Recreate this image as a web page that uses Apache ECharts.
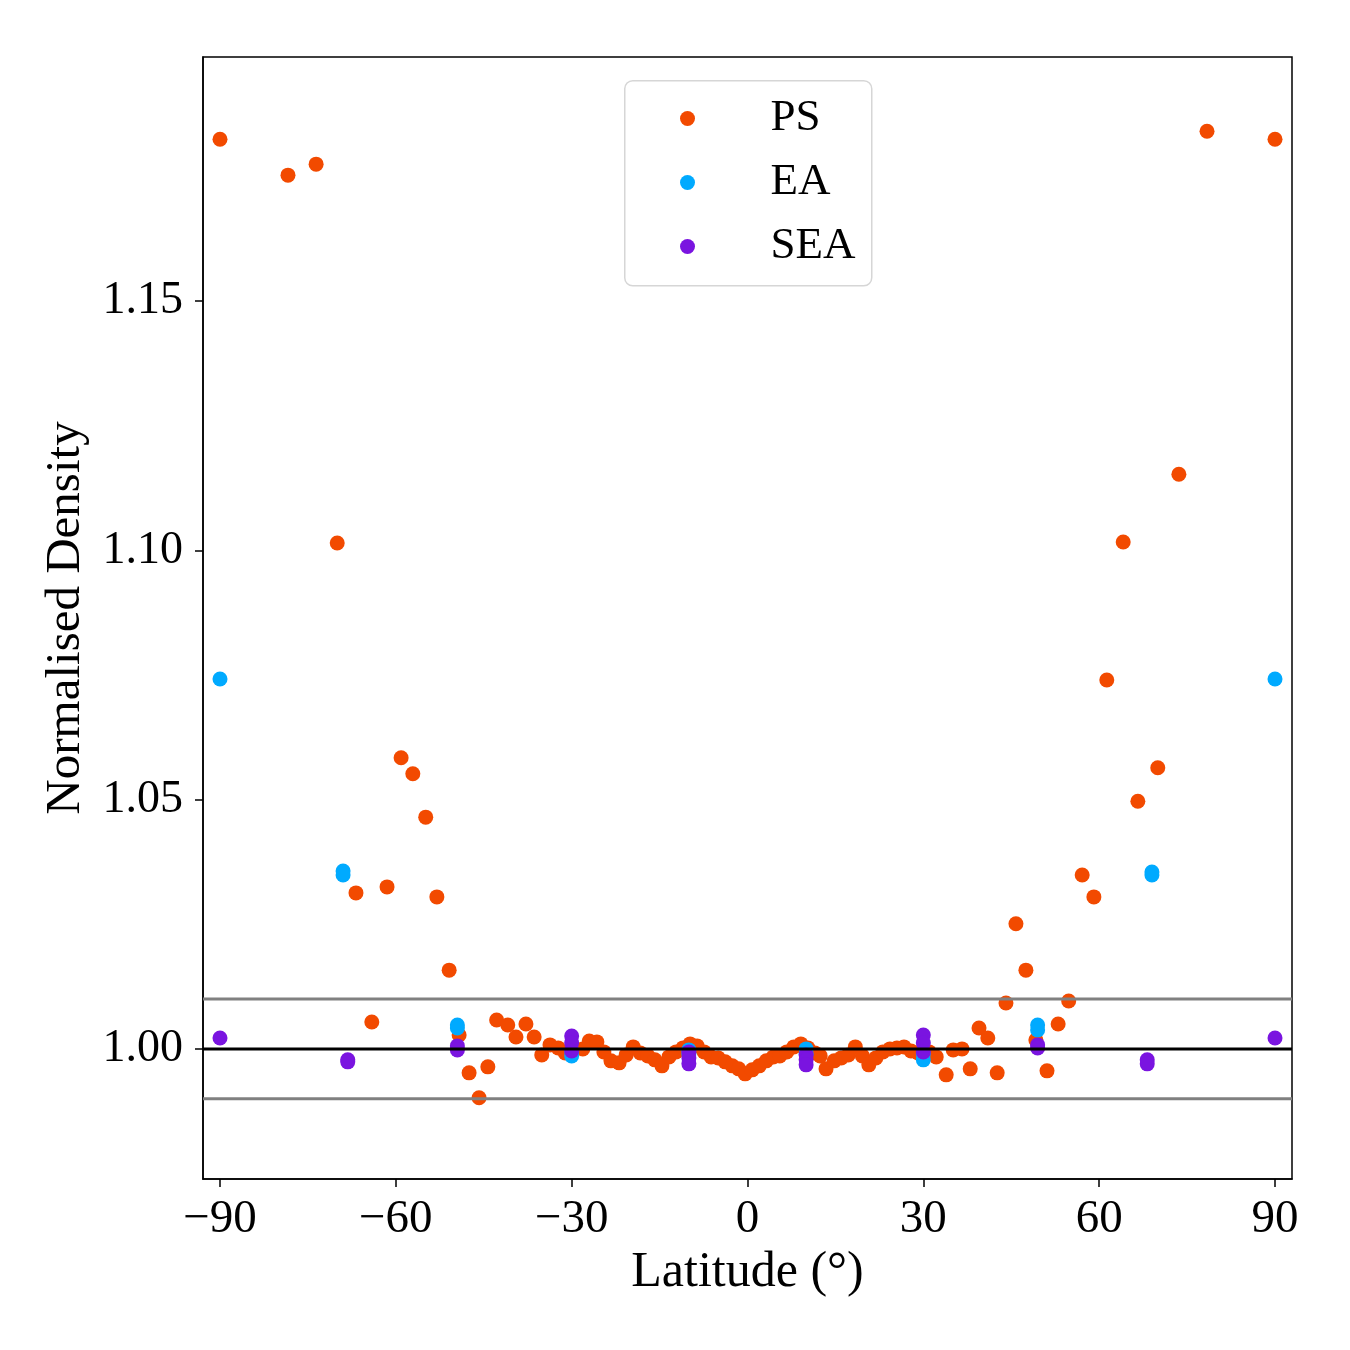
<!DOCTYPE html>
<html>
<head>
<meta charset="utf-8">
<script src="https://cdn.jsdelivr.net/npm/echarts@6/dist/echarts.min.js"></script>
<style>html,body{margin:0;padding:0;background:#fff;}#c{width:1350px;height:1350px;}</style>
</head>
<body>
<div id="c"></div>
<script>
// ---- data ----
const psData = [
[-90,1.1825],[-78.4,1.1753],[-73.6,1.1775],[-70.0,1.1015],[-66.8,1.0313],[-64.1,1.0054],
[-61.5,1.0325],[-59.1,1.0584],[-57.1,1.0552],[-54.9,1.0465],[-53.0,1.0305],[-50.9,1.0158],
[-49.2,1.0028],[-47.5,0.9952],[-45.8,0.9902],[-44.3,0.9964],[-42.8,1.0058],[-40.9,1.0048],
[-39.5,1.0024],[-37.8,1.0050],[-36.4,1.0024],[-35.1,0.9988],[-33.7,1.0008],[-32.3,1.0002],
[-31.1,0.9992],[-29.8,0.9998],[-28.1,1.0000],[-27.0,1.0016],[-25.7,1.0014],[-24.5,0.9994],
[-23.3,0.9976],[-21.9,0.9972],[-20.7,0.9988],[-19.5,1.0004],[-18.3,0.9992],[-17.0,0.9986],
[-15.8,0.9978],[-14.6,0.9966],[-13.4,0.9984],[-12.2,0.9994],[-11.0,1.0002],[-9.8,1.0010],
[-8.6,1.0006],[-7.4,0.9994],[-6.2,0.9984],[-5.0,0.9982],[-3.8,0.9974],[-2.6,0.9966],
[-1.5,0.9960],[-0.4,0.9950],[0.8,0.9958],[2.0,0.9966],[3.2,0.9976],[4.4,0.9984],
[5.5,0.9986],[6.7,0.9994],[7.9,1.0004],[9.1,1.0010],[10.3,1.0002],[11.5,0.9992],
[12.4,0.9986],[13.4,0.9960],[14.8,0.9976],[16.0,0.9982],[17.2,0.9988],[18.4,1.0004],
[19.6,0.9986],[20.7,0.9968],[21.9,0.9982],[23.1,0.9994],[24.3,1.0000],[25.5,1.0002],
[26.7,1.0004],[27.9,0.9996],[29.1,0.9992],[31.0,0.9994],[32.2,0.9984],[33.9,0.9948],
[35.1,0.9998],[36.6,1.0000],[38.0,0.9960],[39.5,1.0042],[41.0,1.0022],[42.6,0.9952],
[44.1,1.0092],[45.8,1.0251],[47.5,1.0158],[49.2,1.0018],[51.1,0.9956],[53.0,1.0050],
[54.8,1.0096],[57.1,1.0349],[59.1,1.0305],[61.3,1.0740],[64.1,1.1017],[66.6,1.0497],
[70.0,1.0564],[73.6,1.1153],[78.4,1.1841],[90,1.1825]
];
const eaData = [
[-90,1.0742],[-69,1.0357],[-69,1.0349],[-49.5,1.0048],[-49.5,1.0042],
[-30,0.9996],[-30,0.9986],[-10,0.9998],[-10,0.9990],[10,1.0000],[10,0.9990],
[30,0.9990],[30,0.9978],[49.5,1.0048],[49.5,1.0038],[69,1.0355],[69,1.0349],[90,1.0742]
];
const seaData = [
[-90,1.0022],[-68.2,0.9978],[-68.2,0.9974],[-49.5,1.0006],[-49.5,0.9998],
[-30,1.0026],[-30,1.0012],[-30,0.9996],[-10,0.9994],[-10,0.9982],[-10,0.9970],
[10,0.9988],[10,0.9978],[10,0.9968],[30,1.0028],[30,1.0012],[30,0.9994],
[49.5,1.0008],[49.5,1.0002],[68.2,0.9978],[68.2,0.9970],[90,1.0022]
];
const refLines = [1.00, 1.01, 0.99];
const xTicks = [-90,-60,-30,0,30,60,90];
const yTicks = [1.00,1.05,1.10,1.15];
const xMin = -92.9, xMax = 92.9, yMin = 0.9739, yMax = 1.1990;

const FONT = '"Liberation Serif", "DejaVu Serif", serif';
const chart = echarts.init(document.getElementById('c'), null, {renderer:'canvas'});

function lineSeries(y, color, w){
  return {type:'line', data:[[xMin,y],[xMax,y]], symbol:'none', silent:true, z:5,
    lineStyle:{color:color, width:w}, animation:false, legendHoverLink:false};
}

chart.setOption({
  animation:false,
  backgroundColor:'#fff',
  grid:{left:203, right:58, top:57, bottom:171, show:true, borderColor:'#000', borderWidth:1.5, backgroundColor:'transparent'},
  xAxis:{type:'value', min:xMin, max:xMax,
    name:'Latitude (°)', nameLocation:'middle', nameGap:68,
    nameTextStyle:{fontFamily:FONT, fontSize:50, color:'#000'},
    axisLine:{show:true, onZero:false, lineStyle:{color:'#000', width:1.5}},
    axisTick:{show:true, length:8, inside:false, customValues:xTicks, lineStyle:{color:'#000', width:1.5}},
    axisLabel:{customValues:xTicks, fontFamily:FONT, fontSize:47, color:'#000', margin:17,
      formatter:v => v<0 ? '\u2212'+Math.abs(v) : String(v)},
    splitLine:{show:false}},
  yAxis:{type:'value', min:yMin, max:yMax,
    name:'Normalised Density', nameLocation:'middle', nameGap:112,
    nameTextStyle:{fontFamily:FONT, fontSize:49, color:'#000'},
    axisLine:{show:true, onZero:false, lineStyle:{color:'#000', width:1.5}},
    axisTick:{show:true, length:8, inside:false, customValues:yTicks, lineStyle:{color:'#000', width:1.5}},
    axisLabel:{customValues:yTicks, fontFamily:FONT, fontSize:46, color:'#000', margin:20,
      formatter:v => v.toFixed(2)},
    splitLine:{show:false}},
  graphic:[{type:'rect', left:624, top:80, z:0,
    shape:{width:247, height:205, r:8},
    style:{fill:'rgba(255,255,255,0.8)', stroke:'#d6d6d6', lineWidth:1.5}}],
  legend:{orient:'vertical', left:675, top:91, itemWidth:60, itemHeight:15, itemGap:19,
    icon:'circle', data:['PS','EA','SEA'],
    textStyle:{fontFamily:FONT, fontSize:45, color:'#000', lineHeight:40, padding:[0,0,0,48]}},
  series:[
    {name:'PS', type:'scatter', data:psData, symbolSize:15, itemStyle:{color:'#f24a00', opacity:1}, z:2},
    {name:'EA', type:'scatter', data:eaData, symbolSize:15, itemStyle:{color:'#00aaff', opacity:1}, z:3},
    {name:'SEA', type:'scatter', data:seaData, symbolSize:15, itemStyle:{color:'#7a14e0', opacity:1}, z:4},
    lineSeries(refLines[1], '#808080', 3),
    lineSeries(refLines[2], '#808080', 3),
    lineSeries(refLines[0], '#000000', 3)
  ]
});
</script>
</body>
</html>
